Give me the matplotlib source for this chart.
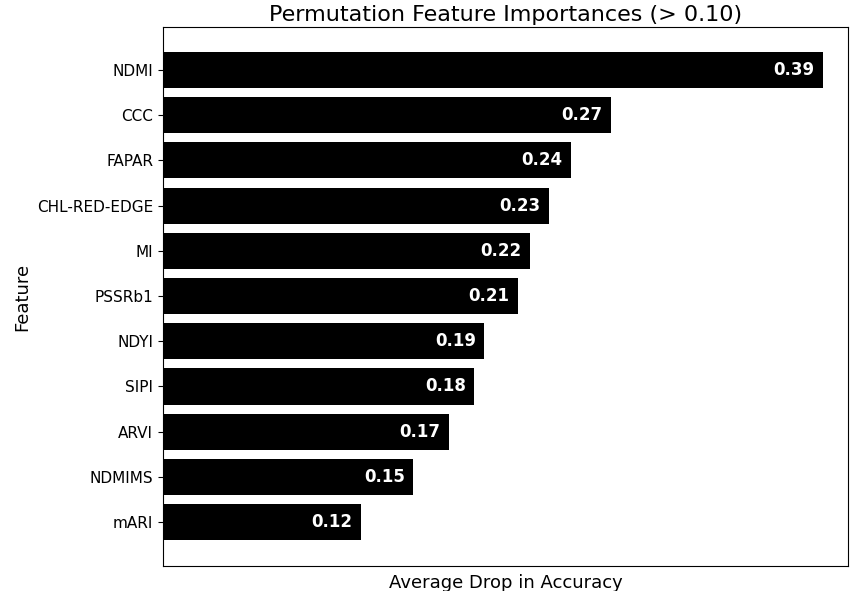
import matplotlib
matplotlib.use("Agg")
import matplotlib.pyplot as plt

features = ["NDMI", "CCC", "FAPAR", "CHL-RED-EDGE", "MI", "PSSRb1", "NDYI", "SIPI", "ARVI", "NDMIMS", "mARI"]
values = [0.390, 0.265, 0.241, 0.228, 0.217, 0.210, 0.190, 0.184, 0.169, 0.148, 0.117]

fig = plt.figure(figsize=(8.58, 5.91), dpi=100)
ax = fig.add_axes([163/858, 1-566/591, 685/858, 539/591])
y = list(range(len(features)))
ax.barh(y, values, height=0.8, color="black")
for yi, v in zip(y, values):
    ax.text(v - 0.005, yi, f"{v:.2f}", color="white", fontweight="bold",
            ha="right", va="center", fontsize=12)
ax.set_yticks(y)
ax.set_yticklabels(features, fontsize=11)
ax.set_ylim(10.97, -0.95)
ax.set_xlim(0, 0.405)
ax.set_xticks([])
ax.set_xlabel("Average Drop in Accuracy", fontsize=13, labelpad=6)
ax.set_ylabel("Feature", fontsize=13)
ax.set_title("Permutation Feature Importances (> 0.10)", fontsize=16, pad=4)
fig.savefig("out.png", dpi=100)
